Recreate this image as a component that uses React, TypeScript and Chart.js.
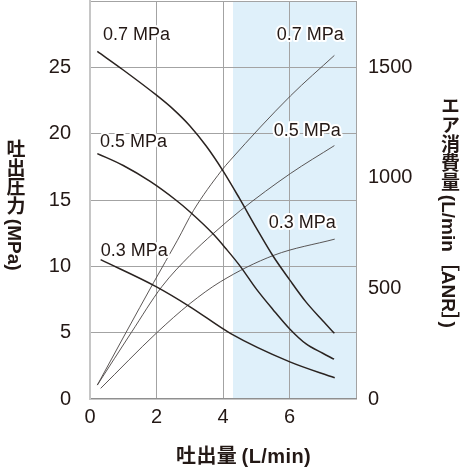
import { useEffect, useRef } from "react";
import { Chart, registerables } from "chart.js";

Chart.register(...registerables);

// pressure curves (left axis, 吐出圧力)
const p07X = [0.22, 1.0, 2.0, 2.5, 3.0, 3.5, 4.0, 4.5, 5.0, 5.5, 6.0, 6.5, 7.0, 7.35];
const p07Y = [26.2, 24.8, 22.9, 21.85, 20.6, 19.05, 17.2, 15.1, 12.9, 10.8, 9.0, 7.3, 5.9, 4.95];
const p05X = [0.22, 1.0, 1.81, 2.58, 3.01, 3.72, 4.1, 4.52, 5.0, 5.5, 6.0, 6.5, 7.0, 7.34];
const p05Y = [18.5, 17.6, 16.4, 15.0, 14.1, 12.4, 11.3, 10.0, 8.3, 6.75, 5.3, 4.15, 3.45, 3.0];
const p03X = [0.32, 2.0, 3.01, 4.22, 6.01, 7.36];
const p03Y = [10.5, 8.45, 6.95, 4.95, 2.8, 1.6];

// air consumption curves (right axis, エア消費量)
const a07X = [0.22, 1.08, 1.91, 2.63, 3.11, 3.95, 4.22, 6.03, 7.35];
const a07Y = [63, 300, 526, 718, 852, 1032, 1080, 1371, 1554];
const a05X = [0.22, 1.24, 2.16, 3.01, 3.72, 4.52, 6.03, 7.35];
const a05Y = [63, 300, 508, 650, 750, 852, 1020, 1146];
const a03X = [0.32, 2.01, 3.01, 3.92, 5.53, 7.36];
const a03Y = [48, 300, 432, 530, 650, 723];

// tick labels
const xTicks = [0, 2, 4, 6, 8];
const leftTicks = [0, 5, 10, 15, 20, 25, 30];
const rightTicks = [0, 500, 1000, 1500];

const curveNames = ["0.7 MPa", "0.5 MPa", "0.3 MPa"];
// where the curve names sit (data units)
const pressureLabelX = [0.39, 0.3, 0.32];
const pressureLabelY = [27.4, 19.35, 11.14];
const airLabelX = [7.63, 7.54, 7.39];
const airLabelY = [1644, 1212, 795];

const shadeFrom = 4.3;

const ink = "#231815";
const latin = "'Liberation Sans', 'Noto Sans CJK JP', sans-serif";

const pts = (xs: number[], ys: number[]) => xs.map((x, i) => ({ x, y: ys[i] }));

const overlay = {
  id: "overlay",
  beforeDraw(chart: any) {
    const { ctx, chartArea, scales } = chart;
    const x0 = scales.x.getPixelForValue(shadeFrom);
    ctx.save();
    ctx.fillStyle = "#dff0fa";
    ctx.fillRect(x0, chartArea.top, chartArea.right - x0, chartArea.bottom - chartArea.top);
    ctx.restore();
  },
  afterDatasetsDraw(chart: any) {
    const { ctx, scales } = chart;
    ctx.save();
    ctx.font = `18px ${latin}`;
    ctx.textBaseline = "middle";
    ctx.lineJoin = "round";
    ctx.fillStyle = ink;
    ctx.strokeStyle = "#ffffff";
    ctx.lineWidth = 4;
    curveNames.forEach((t, i) => {
      ctx.textAlign = "left";
      const px = scales.x.getPixelForValue(pressureLabelX[i]);
      const py = scales.y.getPixelForValue(pressureLabelY[i]);
      ctx.strokeText(t, px, py);
      ctx.fillText(t, px, py);
      ctx.textAlign = "right";
      const ax = scales.x.getPixelForValue(airLabelX[i]);
      const ay = scales.y2.getPixelForValue(airLabelY[i]);
      ctx.strokeText(t, ax, ay);
      ctx.fillText(t, ax, ay);
    });
    ctx.restore();
  },
};

const App: React.FC = () => {
  const chartRef = useRef<HTMLCanvasElement | null>(null);

  useEffect(() => {
    document.body.style.margin = "0";
    if (!chartRef.current) return;
    const ctx = chartRef.current.getContext("2d");
    if (!ctx) return;

    const pressure = (data: any) => ({
      data,
      yAxisID: "y",
      borderColor: "#2a2320",
      borderWidth: 1.5,
      pointRadius: 0,
      cubicInterpolationMode: "monotone" as const,
    });
    const air = (data: any) => ({
      data,
      yAxisID: "y2",
      borderColor: "#4a4443",
      borderWidth: 0.9,
      pointRadius: 0,
      cubicInterpolationMode: "monotone" as const,
    });

    const tickFont = { family: latin, size: 20 };
    const gridColor = (c: any) => (c.tick && c.tick.value === 0 ? "rgba(0,0,0,0)" : "#a3a3a3");
    const setTicks = (list: number[]) => (s: any) => {
      s.ticks = list.map((value) => ({ value }));
    };

    const myChart = new Chart(ctx, {
      type: "line",
      data: {
        datasets: [
          pressure(pts(p07X, p07Y)),
          pressure(pts(p05X, p05Y)),
          pressure(pts(p03X, p03Y)),
          air(pts(a07X, a07Y)),
          air(pts(a05X, a05Y)),
          air(pts(a03X, a03Y)),
        ],
      },
      options: {
        responsive: false,
        animation: false,
        layout: { padding: { top: 1, left: 0, right: 0, bottom: 0 } },
        plugins: { legend: { display: false }, tooltip: { enabled: false } },
        scales: {
          x: {
            type: "linear",
            min: 0,
            max: 8,
            afterBuildTicks: setTicks(xTicks),
            afterFit: (s: any) => {
              s.height = 71;
              s.paddingLeft = 0;
              s.paddingRight = 0;
            },
            grid: { color: gridColor, lineWidth: 1, drawTicks: false },
            border: { color: "#8f8f8f", width: 1.5 },
            ticks: {
              padding: 6,
              color: ink,
              font: tickFont,
              maxRotation: 0,
              autoSkip: false,
              callback: (v: any) => (v === 8 ? "" : v),
            },
          },
          y: {
            position: "left",
            min: 0,
            max: 30,
            afterBuildTicks: setTicks(leftTicks),
            afterFit: (s: any) => {
              s.width = 90;
              s.paddingTop = 0;
              s.paddingBottom = 0;
            },
            grid: { color: gridColor, lineWidth: 1, drawTicks: false },
            border: { color: "#c6c6c6", width: 2 },
            ticks: {
              padding: 19,
              autoSkip: false,
              color: ink,
              font: tickFont,
              callback: (v: any) => (v === 30 ? "" : v),
            },
          },
          y2: {
            position: "right",
            min: 0,
            max: 1800,
            afterBuildTicks: setTicks(rightTicks),
            afterFit: (s: any) => {
              s.width = 104;
              s.paddingTop = 0;
              s.paddingBottom = 0;
            },
            grid: { display: false, drawTicks: false },
            border: { display: false },
            ticks: {
              autoSkip: false,
              padding: 12,
              color: ink,
              font: tickFont,
              callback: (v: any) => String(v),
            },
          },
        },
      },
      plugins: [overlay],
    });
    return () => myChart.destroy();
  }, []);

  const title: React.CSSProperties = {
    position: "absolute",
    fontFamily: latin,
    fontWeight: 700,
    fontSize: 19,
    lineHeight: 1,
    color: ink,
    whiteSpace: "nowrap",
  };

  return (
    <div style={{ position: "relative", width: 460, height: 470, background: "#fff" }}>
      <canvas ref={chartRef} width="460" height="470" style={{ display: "block" }} />
      <div style={{ ...title, left: 176, top: 446, fontSize: 20, letterSpacing: "0.4px" }}>吐出量{"\u2009"}(L/min)</div>
      <div style={{ ...title, left: 4.5, top: 139, writingMode: "vertical-rl" }}>吐出圧力{"\u2009"}(MPa)</div>
      <div style={{ ...title, left: 439, top: 96, writingMode: "vertical-rl" }}>エア消費量{"\u2009"}(L/min［ANR］)</div>
    </div>
  );
};

export default App;
